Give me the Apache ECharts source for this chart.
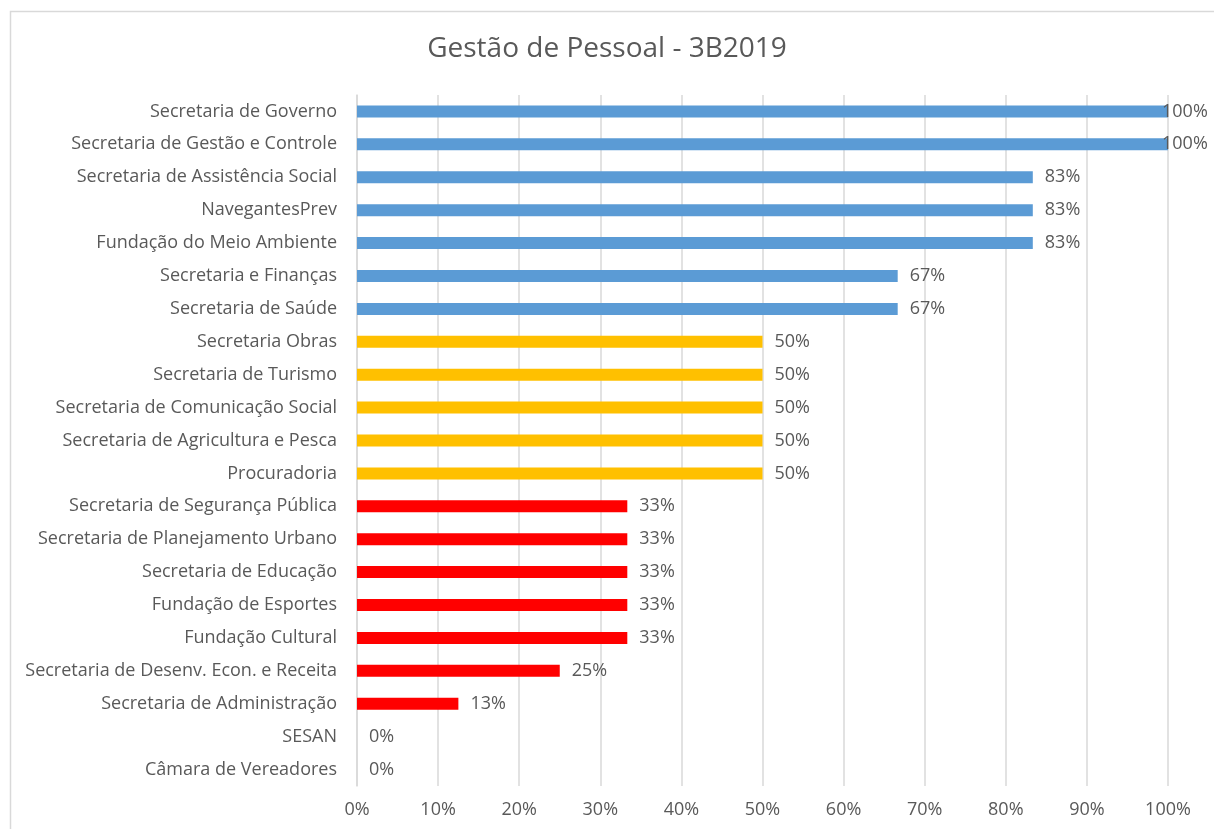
<!DOCTYPE html>
<html>
<head>
<meta charset="utf-8">
<script src="https://cdn.jsdelivr.net/npm/echarts@6/dist/echarts.min.js"></script>
<style>
  html, body { margin: 0; padding: 0; background: #fff; }
  #chart { width: 1214px; height: 829px; }
</style>
</head>
<body>
<div id="chart"></div>
<script>
var categories = [
  'Secretaria de Governo',
  'Secretaria de Gestão e Controle',
  'Secretaria de Assistência Social',
  'NavegantesPrev',
  'Fundação do Meio Ambiente',
  'Secretaria e Finanças',
  'Secretaria de Saúde',
  'Secretaria Obras',
  'Secretaria de Turismo',
  'Secretaria de Comunicação Social',
  'Secretaria de Agricultura e Pesca',
  'Procuradoria',
  'Secretaria de Segurança Pública',
  'Secretaria de Planejamento Urbano',
  'Secretaria de Educação',
  'Fundação de Esportes',
  'Fundação Cultural',
  'Secretaria de Desenv. Econ. e Receita',
  'Secretaria de Administração',
  'SESAN',
  'Câmara de Vereadores'
];
var values = [100, 100, 83.33, 83.33, 83.33, 66.67, 66.67, 50, 50, 50, 50, 50,
  33.33, 33.33, 33.33, 33.33, 33.33, 25, 12.5, 0, 0];

var textColor = '#595959';
var gridColor = '#d9d9d9';
var fontFamily = '"Open Sans", sans-serif';

// cor da barra conforme a faixa
function barColor(v) {
  if (v > 50) return '#5b9bd5';
  if (v === 50) return '#ffc000';
  return '#ff0000';
}

var barData = values.map(function (v) {
  var item = { value: v, itemStyle: { color: barColor(v) } };
  // no Excel o rótulo de 100% fica encostado na borda da área
  if (v >= 100) {
    item.label = { offset: [-18, 0] };
  }
  return item;
});

var chart = echarts.init(document.getElementById('chart'));
chart.setOption({
  animation: false,
  textStyle: { fontFamily: fontFamily },
  title: {
    text: 'Gestão de Pessoal - 3B2019',
    left: 'center',
    top: 30,
    textStyle: { fontSize: 28, fontWeight: 'normal', color: textColor, fontFamily: fontFamily }
  },
  graphic: [{
    type: 'rect',
    left: 8,
    top: 9,
    shape: { width: 1205, height: 830 },
    style: { fill: 'none', stroke: '#d9d9d9', lineWidth: 1.5 },
    silent: true
  }],
  grid: { left: 357, right: 46, top: 95, bottom: 43 },
  xAxis: {
    type: 'value',
    min: 0,
    max: 100,
    interval: 10,
    axisLine: { show: false },
    axisTick: { show: false },
    splitLine: { lineStyle: { color: gridColor, width: 1.5 } },
    axisLabel: { formatter: '{value}%', fontSize: 18, color: textColor, margin: 15, fontFamily: fontFamily }
  },
  yAxis: {
    type: 'category',
    inverse: true,
    data: categories,
    axisLine: { show: true, lineStyle: { color: gridColor, width: 1.5 } },
    axisTick: { show: false },
    axisLabel: { fontSize: 18, color: textColor, margin: 20, fontFamily: fontFamily }
  },
  series: [{
    type: 'bar',
    data: barData,
    barWidth: 12,
    label: {
      show: true,
      position: 'right',
      distance: 12,
      fontSize: 18,
      color: textColor,
      fontFamily: fontFamily,
      formatter: function (p) { return Math.round(p.value) + '%'; }
    }
  }]
});
</script>
</body>
</html>
